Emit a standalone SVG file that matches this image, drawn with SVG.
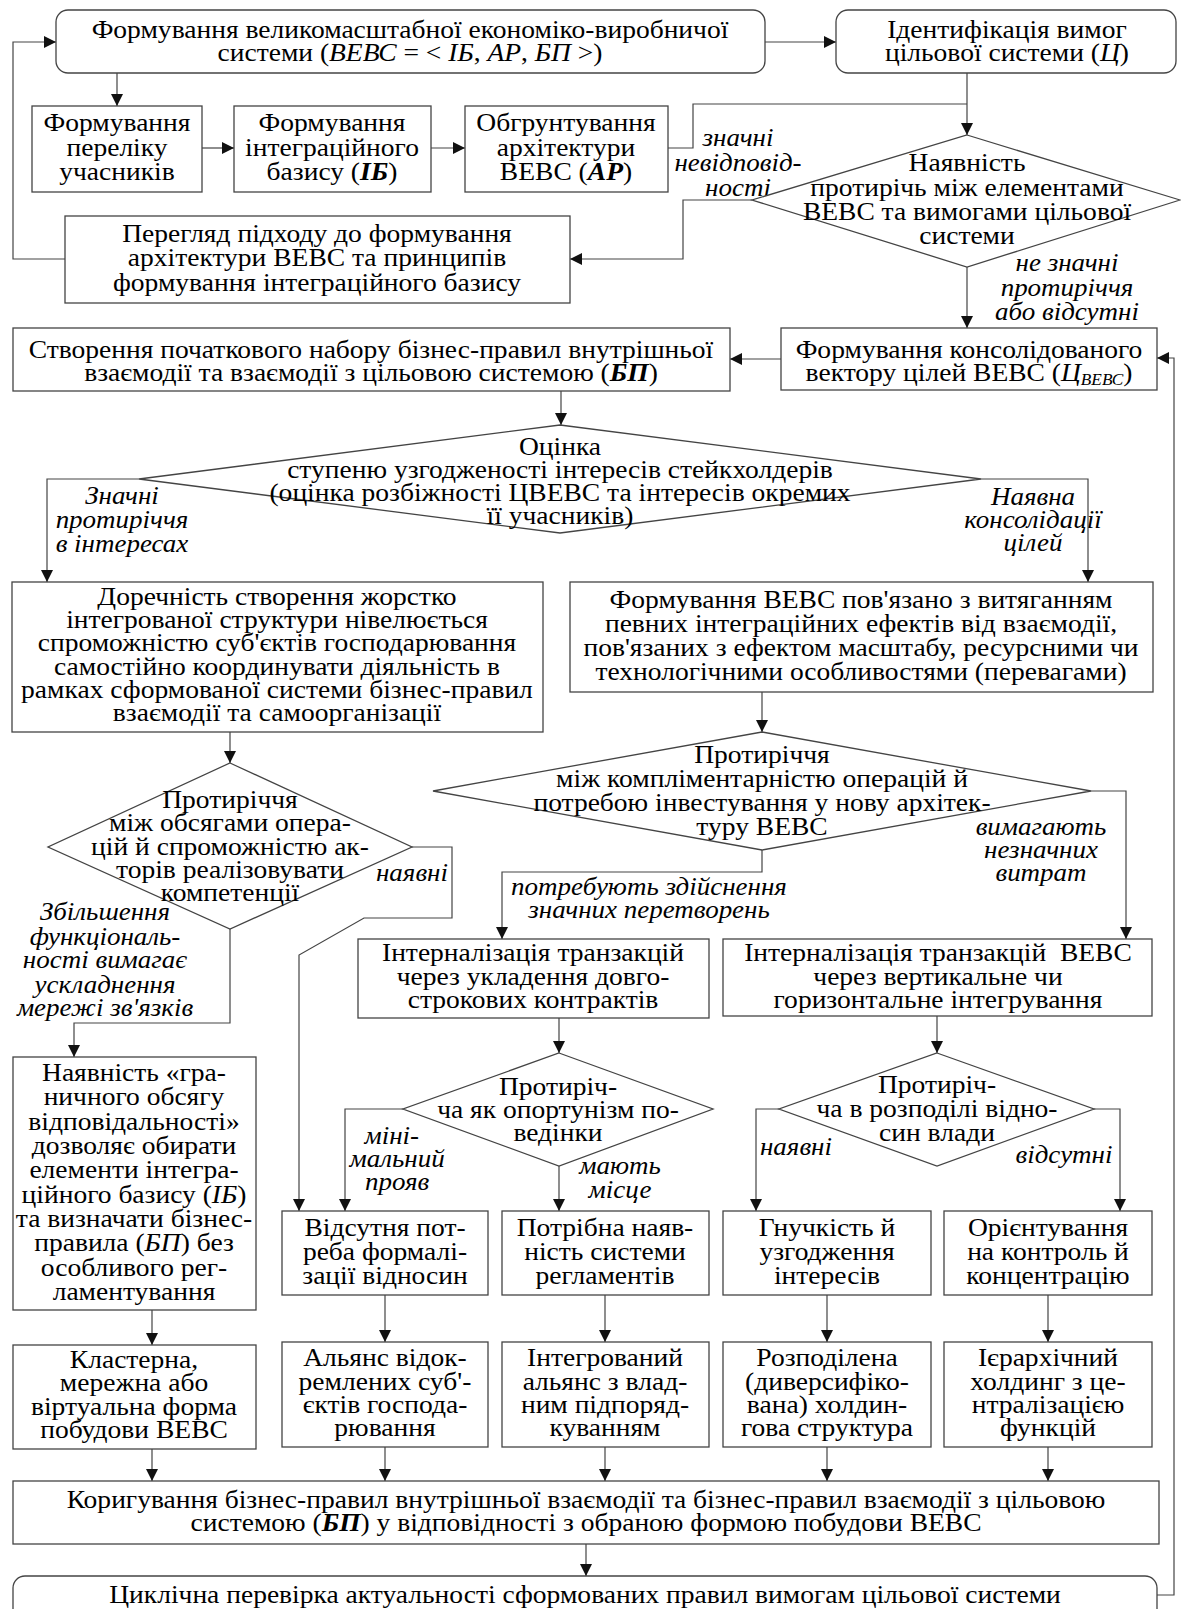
<svg xmlns="http://www.w3.org/2000/svg" width="1181" height="1609" viewBox="0 0 1181 1609">
<defs>
<marker id="ar" markerUnits="userSpaceOnUse" markerWidth="12" markerHeight="12" refX="12" refY="6" orient="auto">
<path d="M0,0 L12,6 L0,12 z" fill="#111"/>
</marker>
<style>
.b{fill:#fff;stroke:#444;stroke-width:1.3}
.t{font-family:"Liberation Serif","Times New Roman",serif;font-size:25.5px;text-anchor:middle;fill:#000}
.l{font-family:"Liberation Serif","Times New Roman",serif;font-size:25px;text-anchor:middle;fill:#000;font-style:italic}
.c{fill:none;stroke:#444;stroke-width:1.2}
.a{marker-end:url(#ar)}
.i{font-style:italic}
.bi{font-style:italic;font-weight:bold}
</style>
</defs>
<rect width="1181" height="1609" fill="#fff"/>

<g id="connectors">
<path class="c a" d="M765,42 H836"/>
<path class="c a" d="M65,259 H13 V42 H56"/>
<path class="c a" d="M117,73 V106"/>
<path class="c a" d="M202,148 H234"/>
<path class="c a" d="M431,148 H465"/>
<path class="c" d="M668,148 H693 V104 H967"/>
<path class="c a" d="M967,73 V135"/>
<path class="c a" d="M752,200 H683 V259 H570"/>
<path class="c a" d="M967,267 V328"/>
<path class="c a" d="M781,359 H730"/>
<path class="c a" d="M1157,1595 H1174 V358 H1157"/>
<path class="c a" d="M561,391 V425"/>
<path class="c a" d="M139,479 H47 V582"/>
<path class="c a" d="M981,479 H1088 V582"/>
<path class="c a" d="M230,732 V763"/>
<path class="c a" d="M412,847 H452 V918 H364 L299,955 V1211"/>
<path class="c a" d="M230,929 V1023 H74 V1057"/>
<path class="c a" d="M762,692 V732"/>
<path class="c a" d="M1091,791 H1126 V939"/>
<path class="c a" d="M762,850 V872 H502 V939"/>
<path class="c a" d="M559,1018 V1053"/>
<path class="c a" d="M403,1109 H345 V1211"/>
<path class="c a" d="M559,1166 V1211"/>
<path class="c a" d="M937,1016 V1053"/>
<path class="c a" d="M779,1109 H756 V1211"/>
<path class="c a" d="M1094,1109 H1120 V1211"/>
<path class="c a" d="M152,1310 V1345"/>
<path class="c a" d="M385,1295 V1342"/>
<path class="c a" d="M605,1295 V1342"/>
<path class="c a" d="M827,1295 V1342"/>
<path class="c a" d="M1048,1295 V1342"/>
<path class="c a" d="M152,1449 V1481"/>
<path class="c a" d="M385,1447 V1481"/>
<path class="c a" d="M605,1447 V1481"/>
<path class="c a" d="M827,1447 V1481"/>
<path class="c a" d="M1048,1447 V1481"/>
<path class="c a" d="M586,1544 V1576"/>
</g>

<g id="labels">
<text class="l" transform="matrix(1.08 0 0 1 -59.04 0)"><tspan x="738" y="146">значні</tspan><tspan x="738" y="171">невідповід-</tspan><tspan x="738" y="196">ності</tspan></text>
<text class="l" transform="matrix(1.08 0 0 1 -85.36 0)"><tspan x="1067" y="271">не значні</tspan><tspan x="1067" y="296">протиріччя</tspan><tspan x="1067" y="320">або відсутні</tspan></text>
<text class="l" transform="matrix(1.08 0 0 1 -9.76 0)"><tspan x="122" y="504">Значні</tspan><tspan x="122" y="528">протиріччя</tspan><tspan x="122" y="552">в інтересах</tspan></text>
<text class="l" transform="matrix(1.08 0 0 1 -82.64 0)"><tspan x="1033" y="505">Наявна</tspan><tspan x="1033" y="528">консолідації</tspan><tspan x="1033" y="551">цілей</tspan></text>
<text class="l" transform="matrix(1.08 0 0 1 -32.96 0)" x="412" y="881">наявні</text>
<text class="l" transform="matrix(1.08 0 0 1 -8.4 0)"><tspan x="105" y="920">Збільшення</tspan><tspan x="105" y="945">функціональ-</tspan><tspan x="105" y="968">ності вимагає</tspan><tspan x="105" y="993">ускладнення</tspan><tspan x="105" y="1016">мережі зв'язків</tspan></text>
<text class="l" transform="matrix(1.08 0 0 1 -83.28 0)"><tspan x="1041" y="835">вимагають</tspan><tspan x="1041" y="858">незначних</tspan><tspan x="1041" y="881">витрат</tspan></text>
<text class="l" transform="matrix(1.08 0 0 1 -51.92 0)"><tspan x="649" y="895">потребують здійснення</tspan><tspan x="649" y="918">значних перетворень</tspan></text>
<text class="l" transform="matrix(1.08 0 0 1 -31.6 0)"><tspan x="392" y="1144">міні-</tspan><tspan x="397" y="1167">мальний</tspan><tspan x="397" y="1190">прояв</tspan></text>
<text class="l" transform="matrix(1.08 0 0 1 -49.6 0)"><tspan x="620" y="1174">мають</tspan><tspan x="620" y="1198">місце</tspan></text>
<text class="l" transform="matrix(1.08 0 0 1 -63.68 0)" x="796" y="1155">наявні</text>
<text class="l" transform="matrix(1.08 0 0 1 -85.12 0)" x="1064" y="1163">відсутні</text>
</g>

<g id="n_top">
<rect class="b" x="56" y="10" width="709" height="63" rx="12"/>
<text class="t" transform="matrix(1.08 0 0 1 -32.8 0)"><tspan x="410" y="38">Формування великомасштабної економіко-виробничої</tspan><tspan x="410" y="61">системи (<tspan class="i">ВЕВС</tspan> = &lt; <tspan class="i">ІБ</tspan>, <tspan class="i">АР</tspan>, <tspan class="i">БП</tspan> &gt;)</tspan></text>
</g>
<g id="n_ident">
<rect class="b" x="836" y="10" width="340" height="63" rx="12"/>
<text class="t" transform="matrix(1.08 0 0 1 -80.56 0)"><tspan x="1007" y="38">Ідентифікація вимог</tspan><tspan x="1007" y="61">цільової системи (<tspan class="i">Ц</tspan>)</tspan></text>
</g>
<g id="n_part">
<rect class="b" x="32" y="106" width="170" height="86"/>
<text class="t" transform="matrix(1.08 0 0 1 -9.36 0)"><tspan x="117" y="131">Формування</tspan><tspan x="117" y="156">переліку</tspan><tspan x="117" y="180">учасників</tspan></text>
</g>
<g id="n_ib">
<rect class="b" x="234" y="106" width="197" height="86"/>
<text class="t" transform="matrix(1.08 0 0 1 -26.56 0)"><tspan x="332" y="131">Формування</tspan><tspan x="332" y="156">інтеграційного</tspan><tspan x="332" y="180">базису (<tspan class="bi">ІБ</tspan>)</tspan></text>
</g>
<g id="n_ar">
<rect class="b" x="465" y="106" width="203" height="86"/>
<text class="t" transform="matrix(1.08 0 0 1 -45.28 0)"><tspan x="566" y="131">Обгрунтування</tspan><tspan x="566" y="156">архітектури</tspan><tspan x="566" y="180">ВЕВС (<tspan class="bi">АР</tspan>)</tspan></text>
</g>
<g id="n_review">
<rect class="b" x="65" y="216" width="505" height="87"/>
<text class="t" transform="matrix(1.08 0 0 1 -25.36 0)"><tspan x="317" y="242">Перегляд підходу до формування</tspan><tspan x="317" y="266">архітектури ВЕВС та принципів</tspan><tspan x="317" y="291">формування інтеграційного базису</tspan></text>
</g>
<g id="d_contr">
<polygon class="b" points="967,135 1180,200 967,267 752,200"/>
<text class="t" transform="matrix(1.08 0 0 1 -77.36 0)"><tspan x="967" y="171">Наявність</tspan><tspan x="967" y="196">протирічь між елементами</tspan><tspan x="967" y="220">ВЕВС та вимогами цільової</tspan><tspan x="967" y="244">системи</tspan></text>
</g>
<g id="n_rules">
<rect class="b" x="13" y="328" width="717" height="63"/>
<text class="t" transform="matrix(1.08 0 0 1 -29.68 0)"><tspan x="371" y="358">Створення початкового набору бізнес-правил внутрішньої</tspan><tspan x="371" y="381">взаємодії та взаємодії з цільовою системою (<tspan class="bi">БП</tspan>)</tspan></text>
</g>
<g id="n_goals">
<rect class="b" x="781" y="328" width="376" height="62"/>
<text class="t" transform="matrix(1.08 0 0 1 -77.52 0)"><tspan x="969" y="358">Формування консолідованого</tspan><tspan x="969" y="381">вектору цілей ВЕВС (<tspan class="i">Ц</tspan><tspan class="i" font-size="16" dy="4">ВЕВС</tspan><tspan dy="-4">)</tspan></tspan></text>
</g>
<g id="d_assess">
<polygon class="b" points="560,425 981,479 560,533 139,479"/>
<text class="t" transform="matrix(1.08 0 0 1 -44.8 0)"><tspan x="560" y="455">Оцінка</tspan><tspan x="560" y="478">ступеню узгодженості інтересів стейкхолдерів</tspan><tspan x="560" y="501">(оцінка розбіжності ЦВЕВС та інтересів окремих</tspan><tspan x="560" y="524">її учасників)</tspan></text>
</g>
<g id="n_self">
<rect class="b" x="12" y="582" width="531" height="150"/>
<text class="t" transform="matrix(1.08 0 0 1 -22.16 0)"><tspan x="277" y="605">Доречність створення жорстко</tspan><tspan x="277" y="628">інтегрованої структури нівелюється</tspan><tspan x="277" y="651">спроможністю суб'єктів господарювання</tspan><tspan x="277" y="675">самостійно координувати діяльність в</tspan><tspan x="277" y="698">рамках сформованої системи бізнес-правил</tspan><tspan x="277" y="721">взаємодії та самоорганізації</tspan></text>
</g>
<g id="n_effects">
<rect class="b" x="570" y="582" width="583" height="110"/>
<text class="t" transform="matrix(1.08 0 0 1 -68.88 0)"><tspan x="861" y="608">Формування ВЕВС пов'язано з витяганням</tspan><tspan x="861" y="632">певних інтеграційних ефектів від взаємодії,</tspan><tspan x="861" y="656">пов'язаних з ефектом масштабу, ресурсними чи</tspan><tspan x="861" y="680">технологічними особливостями (перевагами)</tspan></text>
</g>
<g id="d_volume">
<polygon class="b" points="230,763 412,847 230,929 48,847"/>
<text class="t" transform="matrix(1.08 0 0 1 -18.4 0)"><tspan x="230" y="808">Протиріччя</tspan><tspan x="230" y="831">між обсягами опера-</tspan><tspan x="230" y="855">цій й спроможністю ак-</tspan><tspan x="230" y="878">торів реалізовувати</tspan><tspan x="230" y="901">компетенції</tspan></text>
</g>
<g id="d_compl">
<polygon class="b" points="762,732 1091,791 762,850 433,791"/>
<text class="t" transform="matrix(1.08 0 0 1 -60.96 0)"><tspan x="762" y="763">Протиріччя</tspan><tspan x="762" y="787">між компліментарністю операцій й</tspan><tspan x="762" y="811">потребою інвестування у нову архітек-</tspan><tspan x="762" y="835">туру ВЕВС</tspan></text>
</g>
<g id="n_contract">
<rect class="b" x="358" y="939" width="351" height="79"/>
<text class="t" transform="matrix(1.08 0 0 1 -42.64 0)"><tspan x="533" y="961">Інтерналізація транзакцій</tspan><tspan x="533" y="985">через укладення довго-</tspan><tspan x="533" y="1008">строкових контрактів</tspan></text>
</g>
<g id="n_integr">
<rect class="b" x="723" y="939" width="429" height="77"/>
<text class="t" xml:space="preserve" transform="matrix(1.08 0 0 1 -75.04 0)"><tspan x="938" y="961">Інтерналізація транзакцій  ВЕВС</tspan><tspan x="938" y="985">через вертикальне чи</tspan><tspan x="938" y="1008">горизонтальне інтегрування</tspan></text>
</g>
<g id="d_opport">
<polygon class="b" points="559,1053 713,1109 559,1166 403,1109"/>
<text class="t" transform="matrix(1.08 0 0 1 -44.64 0)"><tspan x="558" y="1095">Протиріч-</tspan><tspan x="558" y="1118">ча як опортунізм по-</tspan><tspan x="558" y="1141">ведінки</tspan></text>
</g>
<g id="d_power">
<polygon class="b" points="937,1053 1094,1109 937,1166 779,1109"/>
<text class="t" transform="matrix(1.08 0 0 1 -74.96 0)"><tspan x="937" y="1093">Протиріч-</tspan><tspan x="937" y="1117">ча в розподілі відно-</tspan><tspan x="937" y="1141">син влади</tspan></text>
</g>
<g id="n_limit">
<rect class="b" x="13" y="1057" width="243" height="253"/>
<text class="t" transform="matrix(1.08 0 0 1 -10.72 0)"><tspan x="134" y="1081">Наявність «гра-</tspan><tspan x="134" y="1105">ничного обсягу</tspan><tspan x="134" y="1130">відповідальності»</tspan><tspan x="134" y="1154">дозволяє обирати</tspan><tspan x="134" y="1178">елементи інтегра-</tspan><tspan x="134" y="1203">ційного базису (<tspan class="i">ІБ</tspan>)</tspan><tspan x="134" y="1227">та визначати бізнес-</tspan><tspan x="134" y="1251">правила (<tspan class="i">БП</tspan>) без</tspan><tspan x="134" y="1276">особливого рег-</tspan><tspan x="134" y="1300">ламентування</tspan></text>
</g>
<g id="n_noformal">
<rect class="b" x="282" y="1211" width="206" height="84"/>
<text class="t" transform="matrix(1.08 0 0 1 -30.8 0)"><tspan x="385" y="1236">Відсутня пот-</tspan><tspan x="385" y="1260">реба формалі-</tspan><tspan x="385" y="1284">зації відносин</tspan></text>
</g>
<g id="n_reglam">
<rect class="b" x="502" y="1211" width="207" height="84"/>
<text class="t" transform="matrix(1.08 0 0 1 -48.4 0)"><tspan x="605" y="1236">Потрібна наяв-</tspan><tspan x="605" y="1260">ність системи</tspan><tspan x="605" y="1284">регламентів</tspan></text>
</g>
<g id="n_flex">
<rect class="b" x="723" y="1211" width="208" height="84"/>
<text class="t" transform="matrix(1.08 0 0 1 -66.16 0)"><tspan x="827" y="1236">Гнучкість й</tspan><tspan x="827" y="1260">узгодження</tspan><tspan x="827" y="1284">інтересів</tspan></text>
</g>
<g id="n_control">
<rect class="b" x="944" y="1211" width="208" height="84"/>
<text class="t" transform="matrix(1.08 0 0 1 -83.84 0)"><tspan x="1048" y="1236">Орієнтування</tspan><tspan x="1048" y="1260">на контроль й</tspan><tspan x="1048" y="1284">концентрацію</tspan></text>
</g>
<g id="n_cluster">
<rect class="b" x="13" y="1345" width="243" height="104"/>
<text class="t" transform="matrix(1.08 0 0 1 -10.72 0)"><tspan x="134" y="1368">Кластерна,</tspan><tspan x="134" y="1391">мережна або</tspan><tspan x="134" y="1415">віртуальна форма</tspan><tspan x="134" y="1438">побудови ВЕВС</tspan></text>
</g>
<g id="n_alliance">
<rect class="b" x="282" y="1342" width="206" height="105"/>
<text class="t" transform="matrix(1.08 0 0 1 -30.8 0)"><tspan x="385" y="1366">Альянс відок-</tspan><tspan x="385" y="1390">ремлених суб'-</tspan><tspan x="385" y="1413">єктів господа-</tspan><tspan x="385" y="1436">рювання</tspan></text>
</g>
<g id="n_intalliance">
<rect class="b" x="502" y="1342" width="207" height="105"/>
<text class="t" transform="matrix(1.08 0 0 1 -48.4 0)"><tspan x="605" y="1366">Інтегрований</tspan><tspan x="605" y="1390">альянс з влад-</tspan><tspan x="605" y="1413">ним підпоряд-</tspan><tspan x="605" y="1436">куванням</tspan></text>
</g>
<g id="n_distrib">
<rect class="b" x="723" y="1342" width="208" height="105"/>
<text class="t" transform="matrix(1.08 0 0 1 -66.16 0)"><tspan x="827" y="1366">Розподілена</tspan><tspan x="827" y="1390">(диверсифіко-</tspan><tspan x="827" y="1413">вана) холдин-</tspan><tspan x="827" y="1436">гова структура</tspan></text>
</g>
<g id="n_hier">
<rect class="b" x="944" y="1342" width="208" height="105"/>
<text class="t" transform="matrix(1.08 0 0 1 -83.84 0)"><tspan x="1048" y="1366">Ієрархічний</tspan><tspan x="1048" y="1390">холдинг з це-</tspan><tspan x="1048" y="1413">нтралізацією</tspan><tspan x="1048" y="1436">функцій</tspan></text>
</g>
<g id="n_correct">
<rect class="b" x="13" y="1481" width="1146" height="63"/>
<text class="t" transform="matrix(1.08 0 0 1 -46.88 0)"><tspan x="586" y="1508">Коригування бізнес-правил внутрішньої взаємодії та бізнес-правил взаємодії з цільовою</tspan><tspan x="586" y="1531">системою (<tspan class="bi">БП</tspan>) у відповідності з обраною формою побудови ВЕВС</tspan></text>
</g>
<g id="n_cycle">
<rect class="b" x="13" y="1576" width="1144" height="60" rx="12"/>
<text class="t" transform="matrix(1.08 0 0 1 -46.8 0)" x="585" y="1603">Циклічна перевірка актуальності сформованих правил вимогам цільової системи</text>
</g>
</svg>
